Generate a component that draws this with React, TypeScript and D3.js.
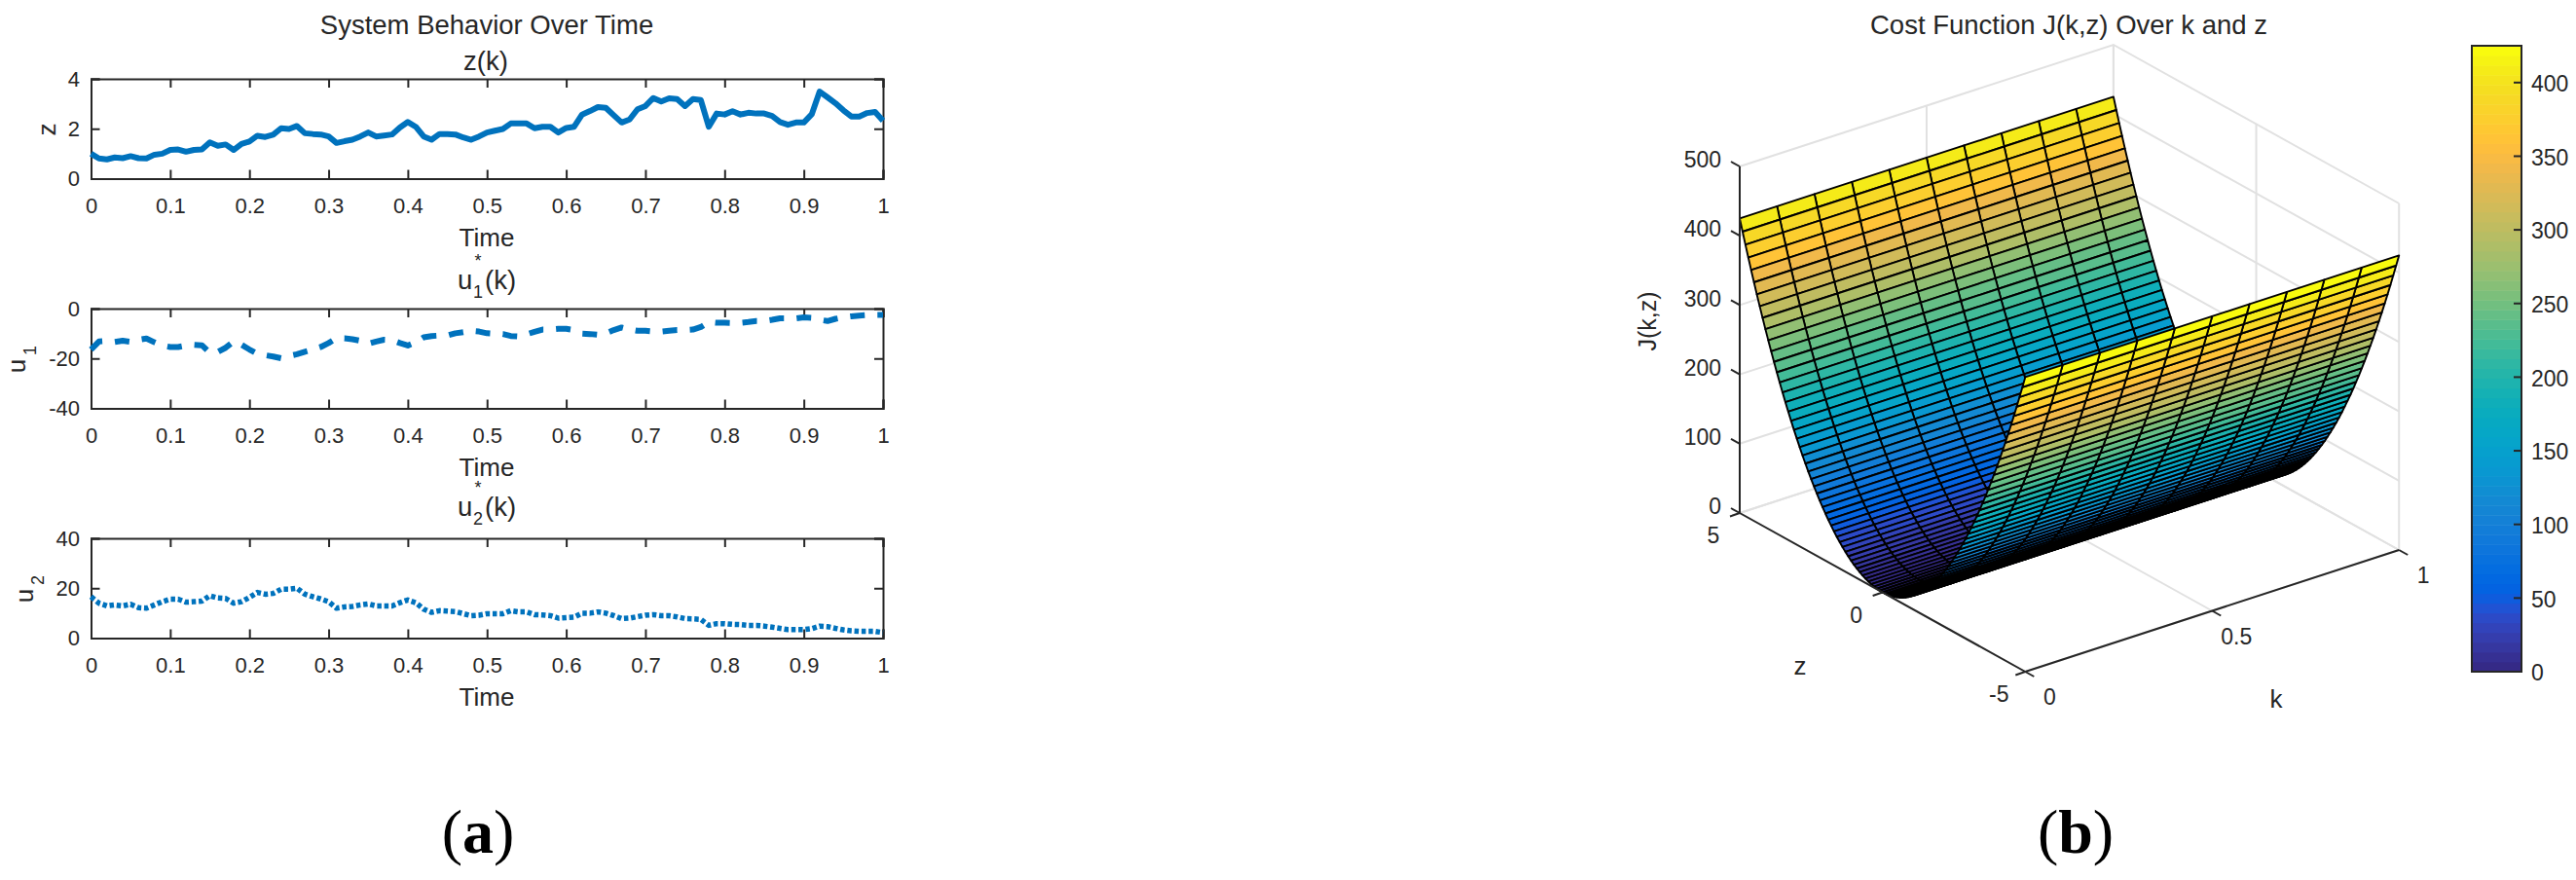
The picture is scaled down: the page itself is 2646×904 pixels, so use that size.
import * as d3 from 'd3';
import React, { ReactElement, useEffect, useRef } from 'react';

// panel (a) series, one value per 0.01 of time
const zSeries = [
  1.0, 0.81, 0.77, 0.85, 0.82, 0.9, 0.82, 0.81, 0.96, 1.0, 1.15, 1.17, 1.08, 1.15, 1.17, 1.45, 1.32, 1.37, 1.15, 1.39,
  1.49, 1.72, 1.67, 1.76, 2.02, 1.99, 2.11, 1.82, 1.79, 1.77, 1.69, 1.43, 1.5, 1.56, 1.69, 1.85, 1.69, 1.73, 1.77, 2.05,
  2.27, 2.08, 1.69, 1.56, 1.79, 1.79, 1.77, 1.65, 1.56, 1.69, 1.85, 1.92, 1.99, 2.21, 2.21, 2.21, 2.02, 2.08, 2.08, 1.85,
  2.03, 2.08, 2.57, 2.71, 2.87, 2.84, 2.54, 2.25, 2.37, 2.78, 2.91, 3.23, 3.09, 3.22, 3.19, 2.91, 3.19, 3.15, 2.08, 2.61,
  2.57, 2.7, 2.57, 2.64, 2.61, 2.61, 2.51, 2.27, 2.16, 2.25, 2.25, 2.58, 3.49, 3.26, 3.02, 2.74, 2.49, 2.49, 2.63, 2.67,
  2.32,
];
const u1Series = [
  -16.4, -13.2, -13, -13.4, -12.9, -13.3, -12.5, -12, -13.5, -14.8, -15.4, -15.4, -14.8, -14.5, -14.7, -17.7, -17.4, -15.7, -13.2, -14.5,
  -16.4, -18.1, -18.7, -19.2, -19.9, -19, -18.3, -17.3, -16.4, -15.4, -13.8, -11.9, -11.9, -12.3, -12.9, -14.1, -13.2, -12.5, -12.6, -13.8,
  -14.8, -13.5, -11.5, -11, -10.8, -10.8, -9.9, -9.5, -8.9, -9.2, -9.9, -10.1, -10.2, -11, -11.2, -10.3, -9.3, -8.4, -8.4, -8.1,
  -8.1, -8.6, -10, -10.2, -10.5, -9.9, -8.6, -7.6, -8.4, -8.9, -8.9, -9.2, -9.2, -8.9, -8.6, -8.6, -8.4, -7.4, -5.4, -5.7,
  -5.7, -5.8, -5.7, -5.4, -5, -5, -4.5, -3.9, -3.9, -3.9, -3.5, -3.7, -4.5, -5, -4.1, -3.5, -3.1, -2.8, -2.6, -2.5,
  -2.5,
];
const u2Series = [
  16.6, 14, 12.9, 13.3, 12.9, 13.6, 12.2, 12, 13.3, 14.6, 15.6, 15.6, 14.4, 14.6, 14.8, 17, 16.1, 15.9, 14, 14.6,
  16.3, 18.3, 17.6, 17.9, 19.6, 19.6, 20, 17.6, 16.6, 15.7, 14.6, 12, 12.5, 12.7, 13.3, 13.7, 12.9, 12.9, 12.9, 14.2,
  15.3, 14.2, 11.6, 10.3, 11, 10.8, 10.6, 9.8, 9, 9.2, 9.8, 9.8, 9.8, 11, 10.5, 10.5, 9.4, 9.3, 9, 8,
  8.2, 8.4, 10, 10, 10.5, 10, 9, 7.8, 8, 8.6, 9.2, 9.4, 9, 9, 8.5, 7.8, 7.7, 7.5, 5.1, 5.8,
  5.8, 5.5, 5.4, 5.1, 5.1, 4.8, 4.4, 3.9, 3.4, 3.4, 3.4, 3.8, 4.8, 4.6, 3.9, 3.3, 2.9, 2.7, 2.7, 2.7,
  2.2,
];
const timeTicks = [0, 0.1, 0.2, 0.3, 0.4, 0.5, 0.6, 0.7, 0.8, 0.9, 1];
const zTicks = [0, 2, 4];
const u1Ticks = [-40, -20, 0];
const u2Ticks = [0, 20, 40];

// panel (b) surface: the grid in k, and the cost for each row of z from -5 to 5 (it does not change with k)
const kGrid = [0, 0.1, 0.2, 0.3, 0.4, 0.5, 0.6, 0.7, 0.8, 0.9, 1];
const zGrid = [
  -5, -4.9, -4.8, -4.7, -4.6, -4.5, -4.4, -4.3, -4.2, -4.1, -4, -3.9, -3.8, -3.7, -3.6, -3.5, -3.4, -3.3, -3.2, -3.1,
  -3, -2.9, -2.8, -2.7, -2.6, -2.5, -2.4, -2.3, -2.2, -2.1, -2, -1.9, -1.8, -1.7, -1.6, -1.5, -1.4, -1.3, -1.2, -1.1,
  -1, -0.9, -0.8, -0.7, -0.6, -0.5, -0.4, -0.3, -0.2, -0.1, 0, 0.1, 0.2, 0.3, 0.4, 0.5, 0.6, 0.7, 0.8, 0.9,
  1, 1.1, 1.2, 1.3, 1.4, 1.5, 1.6, 1.7, 1.8, 1.9, 2, 2.1, 2.2, 2.3, 2.4, 2.5, 2.6, 2.7, 2.8, 2.9,
  3, 3.1, 3.2, 3.3, 3.4, 3.5, 3.6, 3.7, 3.8, 3.9, 4, 4.1, 4.2, 4.3, 4.4, 4.5, 4.6, 4.7, 4.8, 4.9, 5,
];
const costRows = [
  425, 408.2, 391.7, 375.5, 359.7, 344.3, 329.1, 314.3, 299.9, 285.8, 272, 258.6, 245.5, 232.7, 220.3, 208.3, 196.5, 185.1, 174.1, 163.4,
  153, 143, 133.3, 123.9, 114.9, 106.3, 97.9, 89.9, 82.3, 75, 68, 61.4, 55.1, 49.1, 43.5, 38.3, 33.3, 28.7, 24.5, 20.6,
  17, 13.8, 10.9, 8.3, 6.1, 4.3, 2.7, 1.5, 0.7, 0.2, 0, 0.2, 0.7, 1.5, 2.7, 4.3, 6.1, 8.3, 10.9, 13.8,
  17, 20.6, 24.5, 28.7, 33.3, 38.3, 43.5, 49.1, 55.1, 61.4, 68, 75, 82.3, 89.9, 97.9, 106.3, 114.9, 123.9, 133.3, 143,
  153, 163.4, 174.1, 185.1, 196.5, 208.3, 220.3, 232.7, 245.5, 258.6, 272, 285.8, 299.9, 314.3, 329.1, 344.3, 359.7, 375.5, 391.7, 408.2, 425,
];
const costTicks = [0, 100, 200, 300, 400, 500];
const kTicks = [0, 0.5, 1];
const zAxisTicks = [-5, 0, 5];
const barTicks = [0, 50, 100, 150, 200, 250, 300, 350, 400];

const parula = [
  [0.2081, 0.1663, 0.5292], [0.2116, 0.1898, 0.5777], [0.2123, 0.2138, 0.627], [0.2081, 0.2386, 0.6771],
  [0.1959, 0.2645, 0.7279], [0.1707, 0.2919, 0.7792], [0.1253, 0.3242, 0.8303], [0.0591, 0.3598, 0.8683],
  [0.0117, 0.3875, 0.882], [0.006, 0.4086, 0.8828], [0.0165, 0.4266, 0.8786], [0.0329, 0.443, 0.872],
  [0.0498, 0.4586, 0.8641], [0.0629, 0.4737, 0.8554], [0.0723, 0.4887, 0.8467], [0.0779, 0.504, 0.8384],
  [0.0793, 0.52, 0.8312], [0.0749, 0.5375, 0.8263], [0.0641, 0.557, 0.824], [0.0488, 0.5772, 0.8228],
  [0.0343, 0.5966, 0.8199], [0.0265, 0.6137, 0.8135], [0.0239, 0.6287, 0.8038], [0.0231, 0.6418, 0.7913],
  [0.0228, 0.6535, 0.7768], [0.0267, 0.6642, 0.7607], [0.0384, 0.6743, 0.7436], [0.059, 0.6838, 0.7254],
  [0.0843, 0.6928, 0.7062], [0.1133, 0.7015, 0.6859], [0.1453, 0.7098, 0.6646], [0.1801, 0.7177, 0.6424],
  [0.2178, 0.725, 0.6193], [0.2586, 0.7317, 0.5954], [0.3022, 0.7376, 0.5712], [0.3482, 0.7424, 0.5473],
  [0.3953, 0.7459, 0.5244], [0.442, 0.7481, 0.5033], [0.4871, 0.7491, 0.484], [0.53, 0.7491, 0.4661],
  [0.5709, 0.7485, 0.4494], [0.6099, 0.7473, 0.4337], [0.6473, 0.7456, 0.4188], [0.6834, 0.7435, 0.4044],
  [0.7184, 0.7411, 0.3905], [0.7525, 0.7384, 0.3768], [0.7858, 0.7356, 0.3633], [0.8185, 0.7327, 0.3498],
  [0.8507, 0.7299, 0.336], [0.8824, 0.7274, 0.3217], [0.9139, 0.7258, 0.3063], [0.945, 0.7261, 0.2886],
  [0.9739, 0.7314, 0.2666], [0.9938, 0.7455, 0.2403], [0.999, 0.7653, 0.2164], [0.9955, 0.7861, 0.1967],
  [0.988, 0.8066, 0.1794], [0.9789, 0.8271, 0.1633], [0.9697, 0.8481, 0.1475], [0.9626, 0.8705, 0.1309],
  [0.9589, 0.8949, 0.1132], [0.9598, 0.9218, 0.0948], [0.9661, 0.9514, 0.0755], [0.9763, 0.9831, 0.0538],
].map(([r, g, b]) => d3.rgb(r * 255, g * 255, b * 255).formatHex());

const WIDTH = 2646;
const HEIGHT = 904;
const SANS = '"Liberation Sans", Arial, sans-serif';
const DARK = '#262626';
const LINE_BLUE = '#0072BD';
const TICK_FONT = 22;
const LABEL_FONT = 26;
const TITLE_FONT = 27.5;

const PLOT_LEFT = 93.5;
const PLOT_RIGHT = 907;
const PLOT_HEIGHT = 102.5;

type Sel = d3.Selection<SVGGElement, unknown, null, undefined>;

const addText = (
  g: Sel,
  str: string,
  x: number,
  y: number,
  size: number,
  anchor = 'middle',
  rotate = 0,
) => {
  g.append('text')
    .attr('transform', `translate(${x},${y}) rotate(${rotate})`)
    .attr('text-anchor', anchor)
    .attr('dy', '0.36em')
    .attr('font-size', size)
    .attr('fill', DARK)
    .text(str);
};

const drawPanel = (
  root: Sel,
  top: number,
  series: number[],
  yDomain: [number, number],
  yTicks: number[],
  lineOpts: { dash: string | null; width: number },
) => {
  const x = d3.scaleLinear().domain([0, 1]).range([PLOT_LEFT, PLOT_RIGHT]);
  const y = d3.scaleLinear().domain(yDomain).range([top + PLOT_HEIGHT, top]);
  const bottom = top + PLOT_HEIGHT;
  const fmt = (d: d3.NumberValue) => String(d);

  const axes: [d3.Axis<d3.NumberValue>, string][] = [
    [d3.axisBottom(x).tickValues(timeTicks).tickSize(-9).tickPadding(19.5).tickFormat(fmt), `translate(0,${bottom})`],
    [d3.axisTop(x).tickValues(timeTicks).tickSize(-9).tickFormat(() => ''), `translate(0,${top})`],
    [d3.axisLeft(y).tickValues(yTicks).tickSize(-9).tickPadding(11.5).tickFormat(fmt), `translate(${PLOT_LEFT},0)`],
    [d3.axisRight(y).tickValues(yTicks).tickSize(-9).tickFormat(() => ''), `translate(${PLOT_RIGHT},0)`],
  ];
  axes.forEach(([axis, tr]) => {
    const a = root.append('g').attr('transform', tr).call(axis as any);
    a.attr('font-family', SANS).attr('font-size', TICK_FONT);
    a.selectAll('path,line').attr('stroke', DARK).attr('stroke-width', 2);
    a.selectAll('text').attr('fill', DARK);
  });

  const line = d3
    .line<number>()
    .x((_, i) => x(i / (series.length - 1)))
    .y((d) => y(d));
  root
    .append('path')
    .attr('d', line(series))
    .attr('fill', 'none')
    .attr('stroke', LINE_BLUE)
    .attr('stroke-width', lineOpts.width)
    .attr('stroke-linejoin', 'round')
    .attr('stroke-dasharray', lineOpts.dash);

  addText(root, 'Time', 500, bottom + 60.5, LABEL_FONT);
};

// title like u*_1(k)
const addStarTitle = (root: Sel, sub: string, centerY: number) => {
  addText(root, 'u', 470, centerY, TITLE_FONT, 'start');
  addText(root, '*', 491, centerY - 19, 18);
  addText(root, sub, 491, centerY + 13, 18);
  addText(root, '(k)', 498, centerY, TITLE_FONT, 'start');
};

const addRotatedU = (root: Sel, sub: string, x: number, y: number) => {
  addText(root, 'u', x, y + 8, LABEL_FONT, 'middle', -90);
  addText(root, sub, x + 14, y - 8, 18, 'middle', -90);
};

const drawSurface = (root: Sel) => {
  // screen position of a point of the box, corners
  const kx = d3.scaleLinear().domain([0, 1]).range([0, 383.9]);
  const ky = d3.scaleLinear().domain([0, 1]).range([0, -125]);
  const zx = d3.scaleLinear().domain([-5, 5]).range([0, -293.3]);
  const zy = d3.scaleLinear().domain([-5, 5]).range([0, -163]);
  const jy = d3.scaleLinear().domain([0, 500]).range([0, -356]);
  const project = (k: number, z: number, j: number): [number, number] => [
    2080.3 + kx(k) + zx(z),
    690 + ky(k) + zy(z) + jy(j),
  ];
  const seg = d3.line();
  const GRID = '#e1e1e1';

  const grid = root.append('g').attr('fill', 'none').attr('stroke', GRID).attr('stroke-width', 2);
  const addGrid = (pts: [number, number][]) => grid.append('path').attr('d', seg(pts));
  costTicks.forEach((j) => {
    addGrid([project(0, 5, j), project(1, 5, j), project(1, -5, j)]);
  });
  kTicks.forEach((k) => {
    addGrid([project(k, -5, 0), project(k, 5, 0), project(k, 5, 500)]);
  });
  zAxisTicks.forEach((z) => {
    addGrid([project(0, z, 0), project(1, z, 0), project(1, z, 500)]);
  });

  // painter's order: far rows first
  const color = d3.scaleQuantize<string>().domain([0, 425]).range(parula);
  const faces = root.append('g').attr('stroke', '#000').attr('stroke-width', 1.9).attr('stroke-linejoin', 'round');
  for (let r = zGrid.length - 2; r >= 0; r -= 1) {
    for (let c = kGrid.length - 2; c >= 0; c -= 1) {
      faces
        .append('path')
        .attr(
          'd',
          seg([
            project(kGrid[c], zGrid[r], costRows[r]),
            project(kGrid[c + 1], zGrid[r], costRows[r]),
            project(kGrid[c + 1], zGrid[r + 1], costRows[r + 1]),
            project(kGrid[c], zGrid[r + 1], costRows[r + 1]),
          ]) + 'Z',
        )
        .attr('fill', color(costRows[r]));
    }
  }

  const axis = root.append('g').attr('fill', 'none').attr('stroke', DARK).attr('stroke-width', 2);
  const addAxis = (pts: [number, number][]) => axis.append('path').attr('d', seg(pts));
  addAxis([project(0, 5, 0), project(0, 5, 500)]);
  addAxis([project(0, 5, 0), project(0, -5, 0)]);
  addAxis([project(0, -5, 0), project(1, -5, 0)]);
  costTicks.forEach((j) => {
    const [px, py] = project(0, 5, j);
    addAxis([[px, py], [px - 9, py - 5]]);
    addText(root, String(j), 1768, py - 7, TICK_FONT + 1, 'end');
  });
  zAxisTicks.forEach((z) => {
    const [px, py] = project(0, z, 0);
    addAxis([[px, py], [px - 10, py + 3.5]]);
    addText(root, String(z), px - 27, py + 23, TICK_FONT + 1);
  });
  kTicks.forEach((k) => {
    const [px, py] = project(k, -5, 0);
    addAxis([[px, py], [px + 9, py + 5]]);
    addText(root, String(k), px + 25, py + 26, TICK_FONT + 1);
  });

  addText(root, 'J(k,z)', 1692, 330, 25, 'middle', -90);
  addText(root, 'z', 1849, 684, LABEL_FONT);
  addText(root, 'k', 2338, 718, LABEL_FONT);
  addText(root, 'Cost Function J(k,z) Over k and z', 2125, 25, TITLE_FONT);

  // colorbar
  const barY = d3.scaleLinear().domain([0, 425]).range([690, 47]);
  const BAR_L = 2539;
  const BAR_R = 2590;
  const cells = color.range().map((c) => {
    const [a, b] = color.invertExtent(c);
    return { c, a, b };
  });
  root
    .append('g')
    .selectAll('rect')
    .data(cells)
    .enter()
    .append('rect')
    .attr('x', BAR_L)
    .attr('width', BAR_R - BAR_L)
    .attr('y', (d) => barY(d.b))
    .attr('height', (d) => barY(d.a) - barY(d.b) + 0.5)
    .attr('fill', (d) => d.c);
  root
    .append('rect')
    .attr('x', BAR_L)
    .attr('y', 47)
    .attr('width', BAR_R - BAR_L)
    .attr('height', 643)
    .attr('fill', 'none')
    .attr('stroke', DARK)
    .attr('stroke-width', 2);
  barTicks.forEach((t) => {
    root
      .append('line')
      .attr('x1', BAR_R - 8)
      .attr('x2', BAR_R)
      .attr('y1', barY(t))
      .attr('y2', barY(t))
      .attr('stroke', DARK)
      .attr('stroke-width', 2);
    addText(root, String(t), 2600, barY(t) + 1, TICK_FONT + 1, 'start');
  });
};

const App = (): ReactElement => {
  const ref = useRef<SVGSVGElement>(null);

  useEffect(() => {
    const svg = d3.select(ref.current);
    svg.selectAll('*').remove();
    const root = svg.append('g').attr('font-family', SANS) as unknown as Sel;

    addText(root, 'System Behavior Over Time', 500, 25, TITLE_FONT);
    addText(root, 'z(k)', 499, 62, TITLE_FONT);
    drawPanel(root, 81, zSeries, [0, 4], zTicks, { dash: null, width: 6 });
    addText(root, 'z', 48, 133, LABEL_FONT, 'middle', -90);

    addStarTitle(root, '1', 287);
    drawPanel(root, 317, u1Series, [-40, 0], u1Ticks, { dash: '15 13', width: 6 });
    addRotatedU(root, '1', 17, 368);

    addStarTitle(root, '2', 520);
    drawPanel(root, 553, u2Series, [0, 40], u2Ticks, { dash: '4.5 2.8', width: 5.5 });
    addRotatedU(root, '2', 25, 604);

    drawSurface(root);

    // captions
    const caption = (letter: string, x: number) => {
      const t = root
        .append('text')
        .attr('x', x)
        .attr('y', 876)
        .attr('text-anchor', 'middle')
        .attr('font-family', '"Liberation Serif", serif')
        .attr('font-size', 64)
        .attr('fill', '#000');
      t.append('tspan').text('(');
      t.append('tspan').attr('font-weight', 'bold').text(letter);
      t.append('tspan').text(')');
    };
    caption('a', 491);
    caption('b', 2132);
  }, []);

  return (
    <svg
      ref={ref}
      width={WIDTH}
      height={HEIGHT}
      style={{ position: 'absolute', left: 0, top: 0, background: '#fff' }}
    />
  );
};

export default App;
